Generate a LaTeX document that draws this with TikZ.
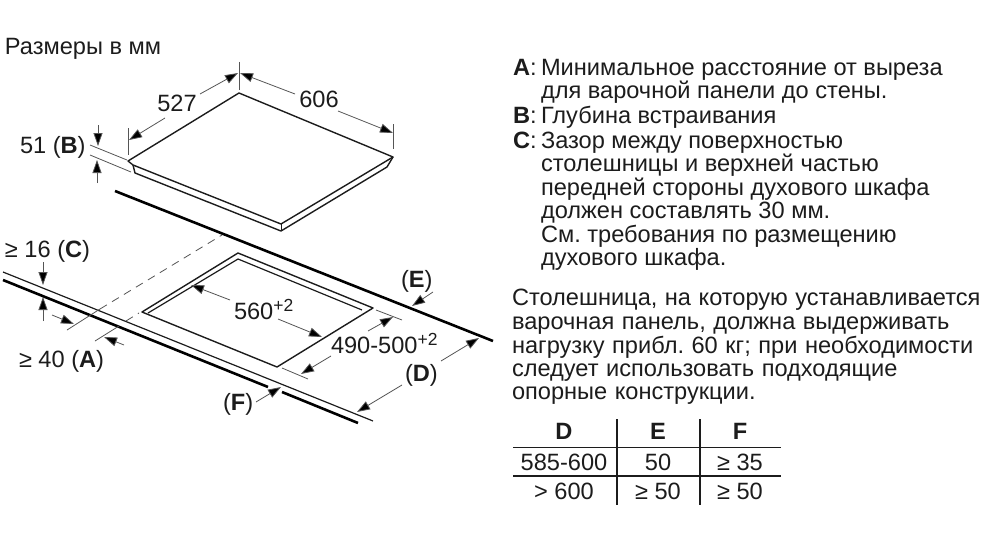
\documentclass[tikz,border=0pt]{standalone}
\usepackage{fontspec}
\setmainfont{Liberation Sans}
\newfontfamily\parafont[WordSpace=1.15]{Liberation Sans}
\usetikzlibrary{arrows.meta}
\definecolor{ink}{HTML}{1C1C1C}
\definecolor{thinc}{HTML}{555555}
\newcommand{\sq}[1]{\raisebox{7.5pt}{\fontsize{17.5}{18}\selectfont #1}}
\newcommand{\keyl}[1]{\makebox[17pt][l]{\textbf{#1}}:}
\tikzset{
  x=1pt,y=-1pt,
  txt/.style={inner sep=0pt,outer sep=0pt,anchor=base west,text=ink,font=\fontsize{23.6}{26}\selectfont\frenchspacing},
  para/.style={txt,font=\parafont\fontsize{23.6}{26}\selectfont\frenchspacing},
  ctr/.style={inner sep=0pt,outer sep=0pt,anchor=base,text=ink,font=\fontsize{23.6}{26}\selectfont},
  heavy/.style={draw=black,line width=2.6pt},
  med/.style={draw=ink,line width=1.4pt,line join=round},
  fine/.style={draw=thinc,line width=0.8pt},
  dashline/.style={draw=thinc,line width=0.8pt,dash pattern=on 8pt off 6pt},
  dim/.style={draw=thinc,line width=0.8pt,-{Triangle[length=13pt,width=9pt,fill=black]}},
  rule/.style={draw=ink,line width=1.1pt},
}
\begin{document}
\begin{tikzpicture}
\useasboundingbox (0,0) rectangle (992,559);
% hob
\draw[med] (133,165) -- (128,161) -- (239,93) -- (393,157) -- (281,224) -- (133,165);
\draw[med] (133,165) -- (135,173) -- (281,231) -- (387,167) -- (393,157);
\draw[med,line width=1pt] (281,224) -- (281,231);
% hob dims
\draw[fine] (128,128) -- (128,155);
\draw[fine] (239,62) -- (239,90);
\draw[fine] (393,124) -- (393,149);
\draw[dim] (165,118) -- (129,140);
\draw[dim] (200,94) -- (238,73);
\draw[dim] (295,94) -- (240,73);
\draw[dim] (338,111) -- (393,133);
\draw[fine] (90,145) -- (127,160);
\draw[fine] (90,155) -- (131,172);
\draw[dim] (98,125) -- (98,146);
\draw[dim] (97,183) -- (97,160);
% worktop
\draw[heavy] (115,191) -- (493,341);
\draw[med,line width=1.2pt] (3,272) -- (373,421);
\draw[heavy] (3,280) -- (268,387);
\draw[heavy] (282,392) -- (358,423);
% cut-out
\draw[med] (277,367) -- (142,312) -- (238,253) -- (373,308) -- cycle;
\draw[med,line width=1.2pt] (148,313) -- (238,259) -- (362,310);
% dashed projections
\draw[fine] (67,330) -- (100,309);
\draw[dashline] (100,309) -- (222,235);
\draw[fine] (95,341) -- (119,326);
\draw[dashline] (126,321) -- (139,313);
% A, C
\draw[dim] (52,315) -- (74,324);
\draw[dim] (124,345) -- (104,337);
\draw[dim] (43,262) -- (43,285);
\draw[dim] (43,321) -- (43,297);
% 560
\draw[dim] (230,300) -- (191,285);
\draw[dim] (278,319) -- (322,337);
% 490-500
\draw[fine] (376,310) -- (402,320);
\draw[fine] (282,368) -- (308,379);
\draw[dim] (368,331) -- (393,317);
\draw[dim] (331,356) -- (301,374);
% D E F
\draw[dim] (441,361) -- (479,338);
\draw[dim] (402,385) -- (357,412);
\draw[dim] (433,292) -- (412,306);
\draw[dim] (256,402) -- (281,387);
% left labels
\node[txt] (title) at (5,55) {Размеры в мм};
\node[ctr] (l527) at (177,112) {527};
\node[ctr] (l606) at (319,107) {606};
\node[txt] (l51) at (20,153) {51 (\textbf{B})};
\node[txt] (l16) at (5,257) {≥ 16 (\textbf{C})};
\node[txt] (l40) at (19,367) {≥ 40 (\textbf{A})};
\node[txt] (l560) at (234,319) {560\sq{+2}};
\node[txt] (l490) at (331,353) {490-500\sq{+2}};
\node[txt] (lE) at (401,287) {(\textbf{E})};
\node[txt] (lD) at (405,381) {(\textbf{D})};
\node[txt] (lF) at (223,410) {(\textbf{F})};
% notes
\node[txt] (a0) at (513,76) {\keyl{A}};
\node[txt] (a1) at (541,76) {Минимальное расстояние от выреза};
\node[txt] (a2) at (541,99) {для варочной панели до стены.};
\node[txt] (b0) at (513,124) {\keyl{B}};
\node[txt] (b1) at (541,124) {Глубина встраивания};
\node[txt] (c0) at (513,148) {\keyl{C}};
\node[txt] (c1) at (541,148) {Зазор между поверхностью};
\node[txt] (c2) at (541,171) {столешницы и верхней частью};
\node[txt] (c3) at (541,195) {передней стороны духового шкафа};
\node[txt] (c4) at (541,218) {должен составлять 30 мм.};
\node[txt] (c5) at (541,242) {См. требования по размещению};
\node[txt] (c6) at (541,265) {духового шкафа.};
\node[para] (p1) at (512,305) {Столешница, на которую устанавливается};
\node[para] (p2) at (512,329) {варочная панель, должна выдерживать};
\node[para] (p3) at (512,353) {нагрузку прибл. 60 кг; при необходимости};
\node[para] (p4) at (512,376) {следует использовать подходящие};
\node[para] (p5) at (512,399) {опорные конструкции.};
% table
\draw[rule] (513,447.5) -- (781,447.5);
\draw[rule] (513,476) -- (781,476);
\draw[rule] (617,419) -- (617,505);
\draw[rule] (700,419) -- (700,505);
\node[ctr] (td) at (564,439) {\textbf{D}};
\node[ctr] (te) at (658,439) {\textbf{E}};
\node[ctr] (tf) at (740,439) {\textbf{F}};
\node[ctr] (t11) at (564,470) {585-600};
\node[ctr] (t12) at (658,470) {50};
\node[ctr] (t13) at (740,470) {≥ 35};
\node[ctr] (t21) at (564,499) {> 600};
\node[ctr] (t22) at (658,499) {≥ 50};
\node[ctr] (t23) at (740,499) {≥ 50};
\end{tikzpicture}
\end{document}
